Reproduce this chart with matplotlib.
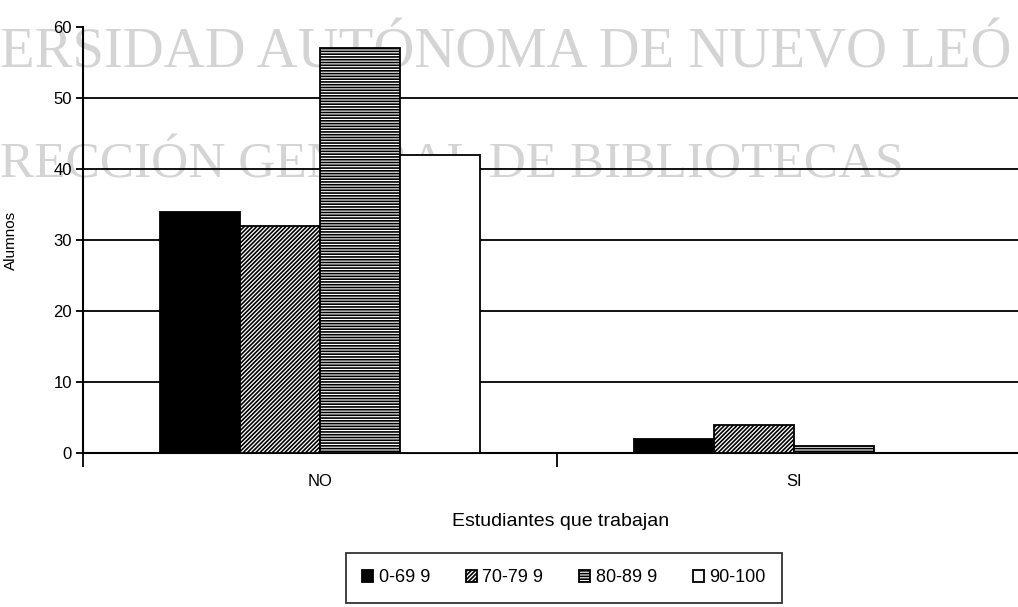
import matplotlib.pyplot as plt
import numpy as np

# datos
categorias = ['NO', 'SI']
rangos = ['0-69 9', '70-79 9', '80-89 9', '90-100']
valores = {
    '0-69 9': [34, 2],
    '70-79 9': [32, 4],
    '80-89 9': [57, 1],
    '90-100': [42, 0],
}
yticks = [0, 10, 20, 30, 40, 50, 60]

colores = ['black', 'white', 'white', 'white']
tramas = [None, '////////', '------', None]

plt.rcParams['font.family'] = ['Liberation Sans', 'DejaVu Sans']
plt.rcParams['hatch.linewidth'] = 1.2

fig = plt.figure(figsize=(10.18, 6.07), dpi=100)
ax = fig.add_axes([83 / 1018, 1 - 453 / 607, 948 / 1018, 426 / 607])
ax.set_zorder(1)
ax.patch.set_visible(False)

# marca de agua del escaneo (se ajusta el tamaño al ancho visible)
marcas = [('ERSIDAD AUTÓNOMA DE NUEVO LEÓ', 67, 1014),
          ('RECCIÓN GENERAL DE BIBLIOTECAS', 177, 905)]
renderer = fig.canvas.get_renderer()
for texto, base, ancho in marcas:
    t = fig.text(0.0, 1 - base / 607, texto, fontsize=50,
                 family='Liberation Serif', color='#d4d4d4', zorder=0.5)
    w_px = t.get_window_extent(renderer).width
    t.set_fontsize(50 * ancho / w_px)

x = np.arange(len(categorias)) + 0.5
w = 80 / 474
for i, r in enumerate(rangos):
    ax.bar(x + (i - 1.5) * w, valores[r], w, color=colores[i], hatch=tramas[i],
           edgecolor='black', linewidth=1.3, label=r, zorder=3)

ax.set_xlim(0, 2)
ax.set_ylim(0, 60)
ax.set_yticks(yticks)
ax.tick_params(axis='y', length=5, width=1.3, labelsize=12, pad=3)
ax.yaxis.grid(True, color='black', linewidth=1.3)
ax.get_ygridlines()[-1].set_visible(False)
ax.set_axisbelow(True)

ax.set_xticks([0, 1, 2])
ax.set_xticklabels([])
ax.set_xticks(x, minor=True)
ax.set_xticklabels(categorias, minor=True, fontsize=12)
ax.tick_params(axis='x', which='major', length=10, width=1.3)
ax.tick_params(axis='x', which='minor', length=0, pad=15)

for s in ['top', 'right']:
    ax.spines[s].set_visible(False)
ax.spines['left'].set_linewidth(1.5)
ax.spines['bottom'].set_linewidth(1.5)

ax.set_ylabel('Alumnos', fontsize=11)
ax.yaxis.set_label_coords(-65 / 948, 0.5)
ax.set_xlabel('Estudiantes que trabajan', fontsize=14)
ax.xaxis.set_label_coords(478 / 948, -60 / 426)

leg = fig.legend(loc='upper center', bbox_to_anchor=(564 / 1018, 1 - 553 / 607),
                 ncol=4, fontsize=13, frameon=True, fancybox=False,
                 edgecolor='black', handlelength=0.6, handleheight=0.6,
                 handletextpad=0.3, columnspacing=2.0, borderpad=0.9,
                 borderaxespad=0)
leg.get_frame().set_linewidth(1.3)

plt.savefig('out.png', dpi=100)
